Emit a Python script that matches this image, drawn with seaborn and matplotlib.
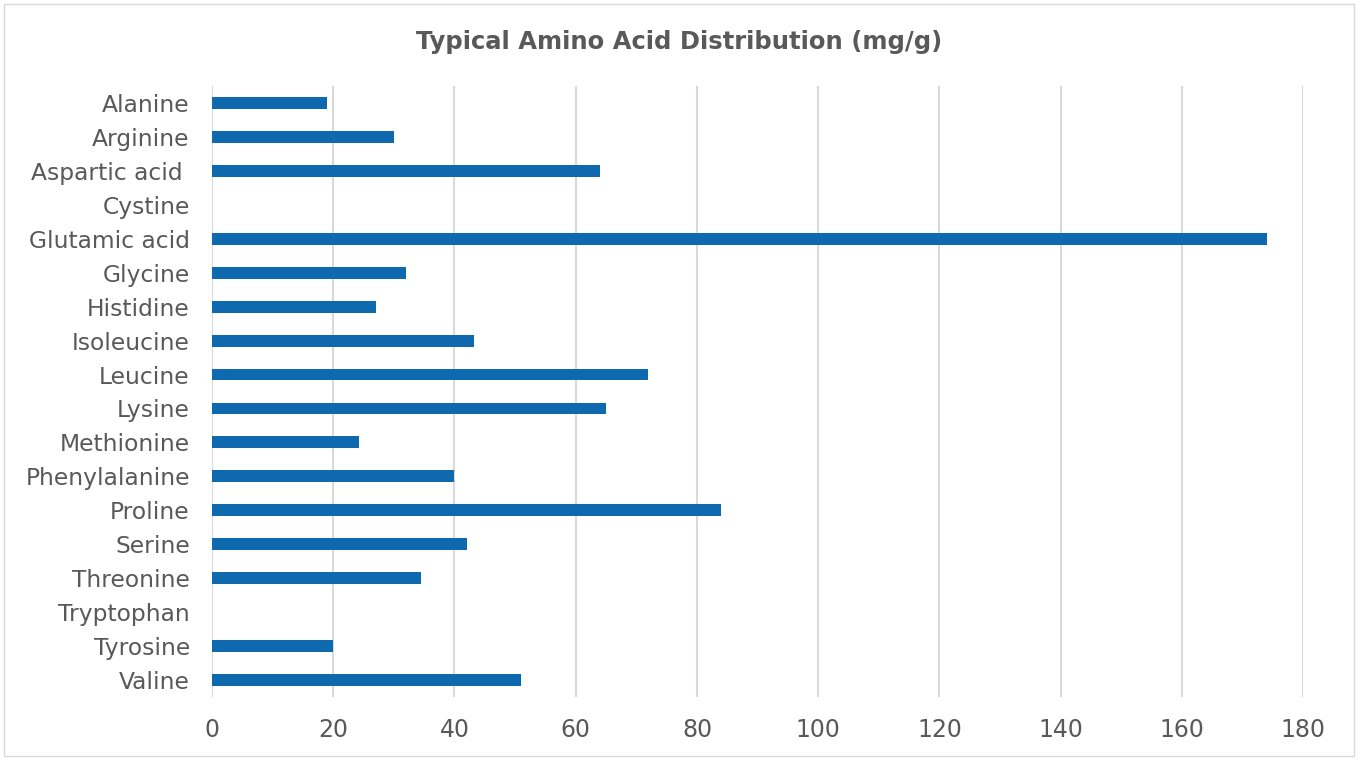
import pandas as pd
import seaborn as sns
import matplotlib.pyplot as plt
from matplotlib.patches import Rectangle

# values (mg/g)
amino_acids = ['Alanine', 'Arginine', 'Aspartic acid ', 'Cystine', 'Glutamic acid',
               'Glycine', 'Histidine', 'Isoleucine', 'Leucine', 'Lysine',
               'Methionine', 'Phenylalanine', 'Proline', 'Serine', 'Threonine',
               'Tryptophan', 'Tyrosine', 'Valine']
amounts = [19, 30, 64, 0, 174,
           32, 27, 43.3, 72, 65,
           24.2, 40, 84, 42.1, 34.4,
           0, 20, 51]
x_ticks = [0, 20, 40, 60, 80, 100, 120, 140, 160, 180]

df = pd.DataFrame({'acid': amino_acids, 'amount': amounts})

sns.set_theme(style='white')
plt.rcParams['font.family'] = ['DejaVu Sans']
text_color = '#595959'
grid_color = '#d9d9d9'

fig = plt.figure(figsize=(13.58, 7.58), dpi=100)
ax = fig.add_axes([0.1561, 0.0805, 0.8035, 0.806])

sns.barplot(
    data=df,
    x='amount',
    y='acid',
    order=amino_acids,
    orient='h',
    color='#0f69af',
    saturation=1,
    width=0.35,
    linewidth=0,
    ax=ax
)

ax.set_xlim(0, 180)
ax.set_xticks(x_ticks)
ax.set_xlabel('')
ax.set_ylabel('')
ax.xaxis.grid(True, color=grid_color, linewidth=1.5)
ax.set_axisbelow(True)
for side in ['top', 'right', 'bottom', 'left']:
    ax.spines[side].set_visible(False)
ax.tick_params(axis='x', length=0, pad=15, labelsize=17, labelcolor=text_color)
ax.tick_params(axis='y', length=0, pad=16, labelsize=16.8, labelcolor=text_color)

fig.suptitle('Typical Amino Acid Distribution (mg/g)', y=0.945, va='center',
             fontsize=17.5, fontweight='bold', color=text_color)

# thin chart-area border
fig.patches.append(Rectangle((0.003, 0.003), 0.994, 0.992, transform=fig.transFigure,
                             fill=False, edgecolor=grid_color, linewidth=1))

fig.savefig('out.png', dpi=100)
plt.close(fig)
